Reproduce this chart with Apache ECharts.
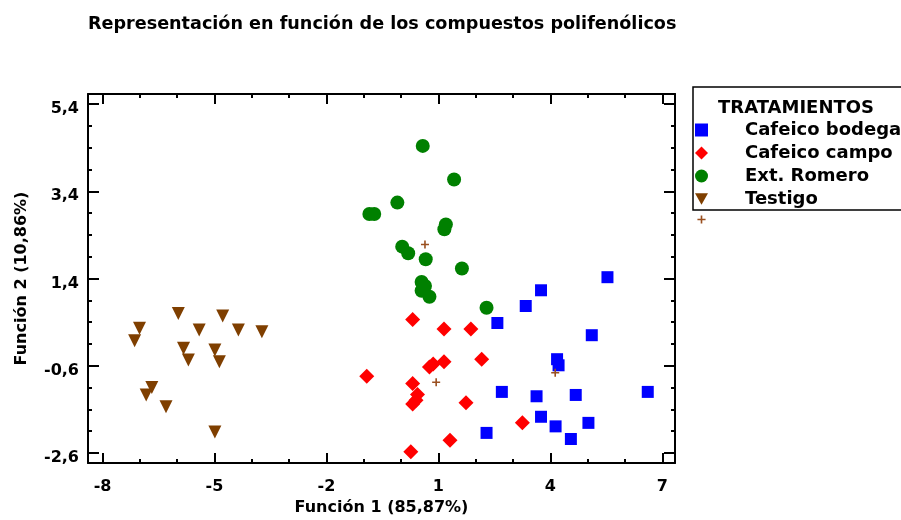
<!DOCTYPE html>
<html>
<head>
<meta charset="utf-8">
<script src="https://cdn.jsdelivr.net/npm/echarts@6/dist/echarts.min.js"></script>
<style>html,body{margin:0;padding:0;background:#fff}#c{width:901px;height:520px}</style>
</head>
<body>
<div id="c"></div>
<script>
// ---- data (Función 1, Función 2) ----
const cafeicoBodega = [
  [5.53,1.43],[3.75,1.13],[3.34,0.77],[2.58,0.38],[5.11,0.10],[4.18,-0.45],[4.22,-0.59],
  [2.70,-1.20],[3.63,-1.30],[4.68,-1.27],[6.61,-1.20],[3.75,-1.77],[4.14,-1.99],[5.02,-1.91],
  [2.29,-2.14],[4.55,-2.28]
];
const cafeicoCampo = [
  [-0.92,-0.84],[0.31,0.46],[1.15,0.24],[1.87,0.24],[2.16,-0.45],[1.15,-0.51],[0.86,-0.56],
  [0.76,-0.63],[0.31,-1.01],[0.44,-1.26],[0.40,-1.39],[0.31,-1.48],[1.74,-1.45],[3.25,-1.91],
  [1.31,-2.31],[0.26,-2.57]
];
const extRomero = [
  [0.58,4.44],[1.42,3.67],[-0.10,3.14],[-0.85,2.88],[-0.72,2.88],[1.20,2.64],[1.16,2.53],
  [0.03,2.13],[0.19,1.98],[0.66,1.84],[1.63,1.63],[0.55,1.32],[0.64,1.23],[0.55,1.12],
  [0.76,0.98],[2.29,0.73]
];
const testigo = [
  [-5.97,0.60],[-4.78,0.54],[-7.01,0.26],[-5.41,0.22],[-4.36,0.22],[-3.73,0.18],[-7.14,-0.03],
  [-5.83,-0.20],[-5.70,-0.47],[-4.99,-0.24],[-4.87,-0.51],[-6.68,-1.10],[-6.83,-1.27],
  [-6.30,-1.54],[-4.99,-2.12]
];
const centroides = [[0.64,2.18],[0.94,-0.98],[4.13,-0.76]];

const seriesNames = ['Cafeico bodega','Cafeico campo','Ext. Romero','Testigo','Centroides'];
const xMajorTicks = [-8,-5,-2,1,4,7];
const xMinorTicks = [-7,-6,-4,-3,-1,0,2,3,5,6];
const yMajorTicks = [-2.6,-0.6,1.4,3.4,5.4];
const yMinorTicks = [-2.1,-1.6,-1.1,0.4,-0.1,0.9,1.9,2.4,2.9,3.9,4.4,4.9];
const xRange = [-8.39, 7.34];
const yRange = [-2.83, 5.63];

const FONT = 'DejaVu Sans';
const plusPath = 'path://M4,0H6V4H10V6H6V10H4V6H0V4H4Z';
const plusLegendPath = 'path://M-3,-3L-3,-3M13,13L13,13M4,0H6V4H10V6H6V10H4V6H0V4H4Z';
const downTriPath = 'path://M0,0L10,0L5,9Z';

function xAx(pos, values, len, labels, line) {
  return {
    type:'value', position:pos, min:xRange[0], max:xRange[1],
    axisLine:{show:line, onZero:false, lineStyle:{color:'#000', width:2}},
    axisTick:{show:true, inside:true, length:len, customValues:values, lineStyle:{color:'#000', width:2}},
    axisLabel:{show:labels, customValues:values, margin:16, color:'#000', fontFamily:FONT, fontWeight:'bold', fontSize:16,
      formatter:v => String(Math.round(v))},
    splitLine:{show:false}
  };
}
function yAx(pos, values, len, labels, line) {
  return {
    type:'value', position:pos, min:yRange[0], max:yRange[1],
    axisLine:{show:line, onZero:false, lineStyle:{color:'#000', width:2}},
    axisTick:{show:true, inside:true, length:len, customValues:values, lineStyle:{color:'#000', width:2}},
    axisLabel:{show:labels, customValues:values, margin:9, color:'#000', fontFamily:FONT, fontWeight:'bold', fontSize:16,
      verticalAlign:'top', lineHeight:10, formatter:v => v.toFixed(1).replace('.',',')},
    splitLine:{show:false}
  };
}

const xAxes = [
  Object.assign(xAx('bottom', xMajorTicks, 10, true, true), {
    name:'Función 1 (85,87%)', nameLocation:'middle', nameGap:36,
    nameTextStyle:{color:'#000', fontFamily:FONT, fontWeight:'bold', fontSize:16}
  }),
  xAx('bottom', xMinorTicks, 4, false, false),
  xAx('top', xMajorTicks, 10, false, true),
  xAx('top', xMinorTicks, 4, false, false)
];
const yAxes = [
  Object.assign(yAx('left', yMajorTicks, 11, true, true), {
    name:'Función 2 (10,86%)', nameLocation:'middle', nameGap:58,
    nameTextStyle:{color:'#000', fontFamily:FONT, fontWeight:'bold', fontSize:16}
  }),
  yAx('left', yMinorTicks, 4, false, false),
  yAx('right', yMajorTicks, 11, false, true),
  yAx('right', yMinorTicks, 4, false, false)
];

const chart = echarts.init(document.getElementById('c'), null, {renderer:'canvas'});
chart.setOption({
  animation:false,
  backgroundColor:'#fff',
  title:[
    {text:'Representación en función de los compuestos polifenólicos', left:83, top:10,
     textStyle:{color:'#000', fontFamily:FONT, fontWeight:'bold', fontSize:17.6}},
    {text:'TRATAMIENTOS', left:713, top:94,
     textStyle:{color:'#000', fontFamily:FONT, fontWeight:'bold', fontSize:18}}
  ],
  grid:{left:88, right:226, top:94, bottom:57, containLabel:false, outerBoundsMode:'none'},
  xAxis:xAxes,
  yAxis:yAxes,
  legend:{
    orient:'vertical', left:695, top:121, padding:0, itemGap:5,
    itemWidth:13, itemHeight:13,
    data:[
      {name:seriesNames[0]},
      {name:seriesNames[1]},
      {name:seriesNames[2]},
      {name:seriesNames[3], icon:downTriPath},
      {name:seriesNames[4], icon:plusLegendPath}
    ],
    formatter:n => n === 'Centroides' ? '' : n,
    textStyle:{color:'#000', fontFamily:FONT, fontWeight:'bold', fontSize:18, lineHeight:18, padding:[0,0,0,32]}
  },
  graphic:[
    {type:'rect', shape:{x:693, y:87, width:260, height:123}, style:{fill:'none', stroke:'#000', lineWidth:1.5}, z:0}
  ],
  series:[
    {name:seriesNames[0], type:'scatter', data:cafeicoBodega, symbol:'rect', symbolSize:12, itemStyle:{color:'#0000ff', opacity:1}},
    {name:seriesNames[1], type:'scatter', data:cafeicoCampo, symbol:'diamond', symbolSize:15, itemStyle:{color:'#ff0000', opacity:1}},
    {name:seriesNames[2], type:'scatter', data:extRomero, symbol:'circle', symbolSize:14, itemStyle:{color:'#008000', opacity:1}},
    {name:seriesNames[3], type:'scatter', data:testigo, symbol:'triangle', symbolRotate:180, symbolSize:13, itemStyle:{color:'#7f3f00', opacity:1}},
    {name:seriesNames[4], type:'scatter', data:centroides, symbol:plusPath, symbolSize:8, itemStyle:{color:'#9a5020', opacity:1}, z:3}
  ]
});
</script>
</body>
</html>
